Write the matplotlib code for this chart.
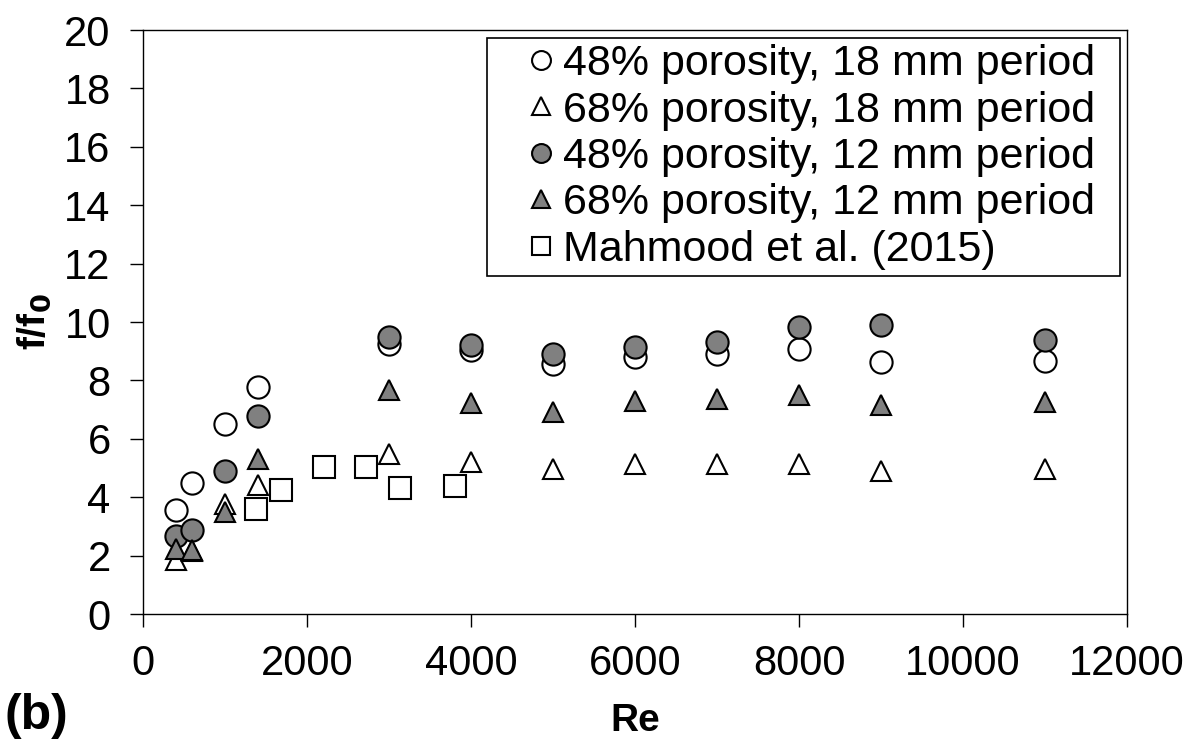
import matplotlib
matplotlib.use('Agg')
import matplotlib.pyplot as plt

# Friction factor ratio against Reynolds number
plt.rcParams['font.family'] = ['Liberation Sans', 'DejaVu Sans']

re_48_18 = [400, 600, 1000, 1400, 3000, 4000, 5000, 6000, 7000, 8000, 9000, 11000]
f_48_18 = [3.56, 4.49, 6.52, 7.79, 9.25, 9.05, 8.55, 8.80, 8.89, 9.08, 8.63, 8.68]

re_68_18 = [400, 600, 1000, 1400, 3000, 4000, 5000, 6000, 7000, 8000, 9000, 11000]
f_68_18 = [1.84, 2.15, 3.76, 4.41, 5.49, 5.21, 4.96, 5.13, 5.13, 5.13, 4.90, 4.96]

re_48_12 = [400, 600, 1000, 1400, 3000, 4000, 5000, 6000, 7000, 8000, 9000, 11000]
f_48_12 = [2.68, 2.87, 4.90, 6.78, 9.50, 9.20, 8.89, 9.14, 9.30, 9.82, 9.90, 9.37]

re_68_12 = [400, 600, 1000, 1400, 3000, 4000, 5000, 6000, 7000, 8000, 9000, 11000]
f_68_12 = [2.21, 2.20, 3.48, 5.30, 7.67, 7.24, 6.93, 7.29, 7.37, 7.50, 7.15, 7.27]

re_mahmood = [1370, 1680, 2207, 2720, 3130, 3800]
f_mahmood = [3.61, 4.24, 5.03, 5.04, 4.33, 4.37]

labels = ['48% porosity, 18 mm period', '68% porosity, 18 mm period',
          '48% porosity, 12 mm period', '68% porosity, 12 mm period',
          'Mahmood et al. (2015)']

grey = '#808080'
ms, mew = 16, 1.5

fig = plt.figure(figsize=(11.98, 7.45), dpi=100)
ax = fig.add_axes([0.1196, 0.1758, 0.8211, 0.7839])

ax.plot(re_48_18, f_48_18, 'o', ms=ms, mfc='white', mec='black', mew=mew, label=labels[0])
ax.plot(re_68_18, f_68_18, '^', ms=ms - 1, mfc='white', mec='black', mew=mew, label=labels[1])
ax.plot(re_48_12, f_48_12, 'o', ms=ms, mfc=grey, mec='black', mew=mew, label=labels[2])
ax.plot(re_68_12, f_68_12, '^', ms=ms - 1, mfc=grey, mec='black', mew=mew, label=labels[3])
ax.plot(re_mahmood, f_mahmood, 's', ms=ms, mfc='white', mec='black', mew=mew, label=labels[4])

ax.set_xlim(0, 12000)
ax.set_ylim(0, 20)
ax.set_xticks(range(0, 12001, 2000))
ax.set_yticks(range(0, 21, 2))
ax.tick_params(direction='out', length=9.5, width=1, labelsize=30)
ax.tick_params(axis='x', pad=12)
ax.tick_params(axis='y', pad=14)
for sp in ax.spines.values():
    sp.set_linewidth(1)

ax.set_xlabel('Re', fontsize=28, fontweight='bold', labelpad=14)
ax.set_ylabel(r'f/f$_\mathbf{0}$', fontsize=28, fontweight='bold', labelpad=8)

# legend box spans a fixed width in the upper right
leg = ax.legend(loc='upper left', bbox_to_anchor=(0.3494, 0.5, 0.6435, 0.487),
                mode='expand', borderaxespad=0,
                fontsize=31, markerscale=0.85, handlelength=2.2, handletextpad=-0.59,
                labelspacing=0.15, borderpad=0.15, fancybox=False, framealpha=1,
                edgecolor='black')
leg.get_frame().set_linewidth(1.2)

fig.text(0.004, 0.022, '(b)', fontsize=36, fontweight='bold')

plt.savefig('out.png', dpi=100)
